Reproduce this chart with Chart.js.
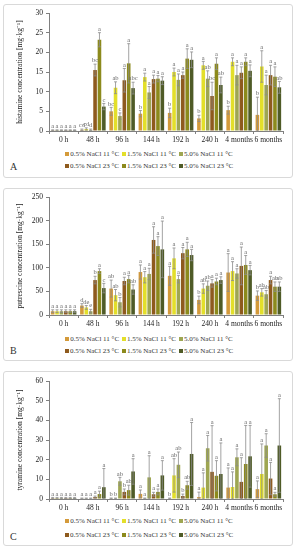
<!DOCTYPE html>
<html><head><meta charset="utf-8">
<script src="https://cdn.jsdelivr.net/npm/chart.js@4/dist/chart.umd.min.js"></script>
<style>
body{margin:0;width:297px;height:550px;background:#fff;position:relative;overflow:hidden;font-family:"Liberation Serif",serif;}
.box{position:absolute;left:3px;width:290px;border:1px solid #d9d9d9;border-radius:3px;box-sizing:border-box;}
canvas.cv{position:absolute;left:3px;}
.lg{position:absolute;left:3px;width:292px;text-align:center;font-size:7px;color:#333;white-space:nowrap;line-height:8px;}
.lg span{display:inline-block;margin:0 1.5px;}
.lg i{display:inline-block;width:4px;height:4px;margin-right:1px;vertical-align:0px;}
.let{position:absolute;left:10px;font-size:10px;color:#333;line-height:10px;}
</style></head><body>
<script>
// ---------- data ----------
const categories = ["0 h","48 h","96 h","144 h","192 h","240 h","4 months","6 months"];
const seriesNames = ["0.5% NaCl 11 °C","1.5% NaCl 11 °C","5.0% NaCl 11 °C","0.5% NaCl 23 °C","1.5% NaCl 23 °C","5.0% NaCl 23 °C"];

// histamine (rows = series in seriesNames order)
const histamine = [
  [0.2, 0.3, 5.0, 4.4, 4.6, 3.2, 5.3, 4.1],
  [0.2, 0.5, 11.0, 13.7, 15.0, 16.7, 17.6, 16.4],
  [0.2, 0.3, 3.8, 9.8, 13.0, 13.3, 14.2, 11.7],
  [0.2, 15.5, 12.9, 13.2, 14.2, 8.9, 14.8, 14.2],
  [0.2, 23.2, 17.2, 13.3, 18.4, 17.1, 17.6, 13.8],
  [0.2, 6.2, 10.9, 12.8, 18.1, 11.7, 15.3, 11.1]
];
const histamineErr = [
  [0.1, 0.2, 1.0, 0.8, 1.2, 0.8, 1.0, 4.5],
  [0.1, 0.3, 1.5, 1.0, 1.0, 1.0, 1.0, 4.0],
  [0.1, 0.2, 0.8, 1.5, 1.5, 2.0, 2.5, 2.5],
  [0.1, 1.5, 3.0, 1.0, 0.8, 3.5, 1.5, 2.5],
  [0.1, 1.8, 5.0, 0.8, 2.5, 1.5, 1.0, 2.5],
  [0.1, 0.8, 1.5, 1.0, 2.0, 2.0, 1.5, 1.5]
];
const histamineLetters = [
  ["a","cd","bc","b","b","b","b","b"],
  ["a","cd","ab","a","a","a","a","a"],
  ["a","d","c","a","a","ab","a","a"],
  ["a","bc","a","a","a","bc","a","a"],
  ["a","a","a","a","a","a","a","a"],
  ["a","c","abc","a","a","ab","a","ab"]
];
const histamineTicks = {min:0, max:30, step:5};

// putrescine
const putrescine = [
  [8, 20, 56, 91, 83, 32, 90, 41],
  [8, 16, 42, 80, 120, 56, 93, 48],
  [8, 8, 27, 87, 76, 62, 88, 44],
  [8, 74, 72, 159, 131, 67, 104, 74],
  [8, 93, 76, 146, 139, 71, 106, 60],
  [8, 57, 54, 139, 127, 74, 95, 60]
];
const putrescineErr = [
  [3, 4, 18, 15, 20, 8, 40, 10],
  [3, 4, 12, 12, 22, 10, 20, 8],
  [3, 4, 10, 12, 8, 10, 10, 8],
  [3, 8, 8, 28, 12, 8, 40, 8],
  [3, 5, 8, 20, 15, 7, 20, 10],
  [3, 10, 10, 60, 12, 7, 10, 10]
];
const putrescineLetters = [
  ["a","d","ab","a","a","b","a","b"],
  ["a","de","ab","a","a","ab","a","ab"],
  ["a","e","b","a","a","ab","a","ab"],
  ["a","b","a","a","a","a","a","a"],
  ["a","a","a","a","a","a","a","ab"],
  ["a","c","ab","a","a","a","a","ab"]
];
const putrescineTicks = {min:0, max:250, step:50};

// tyramine
const tyramine = [
  [0.5, 0.3, 0.3, 2.6, 0.3, 1.0, 5.8, 5.0],
  [0.5, 0.3, 0.3, 0.3, 12.0, 5.8, 6.1, 12.7],
  [0.5, 0.3, 9.0, 11.0, 17.4, 25.8, 21.2, 27.2],
  [0.5, 1.0, 3.6, 2.4, 1.5, 13.8, 8.7, 10.4],
  [0.5, 2.5, 4.5, 3.6, 7.0, 11.8, 17.8, 2.4],
  [0.5, 6.0, 14.0, 12.0, 22.9, 12.7, 21.7, 27.2]
];
const tyramineErr = [
  [0.3, 0.2, 0.2, 2.0, 0.2, 2.5, 10.0, 4.2],
  [0.3, 0.2, 0.2, 0.2, 8.5, 7.5, 7.7, 15.3],
  [0.3, 0.2, 2.0, 11.0, 6.5, 6.5, 4.3, 6.0],
  [0.3, 0.5, 1.5, 1.0, 1.0, 23.5, 12.3, 8.2],
  [0.3, 1.5, 2.5, 1.5, 2.0, 7.7, 19.6, 1.0],
  [0.3, 9.5, 6.5, 7.5, 16.0, 15.8, 15.7, 23.8]
];
const tyramineLetters = [
  ["a","a","b","a","b","a","a","a"],
  ["a","a","b","a","ab","a","a","a"],
  ["a","a","ab","a","ab","a","a","a"],
  ["a","a","b","a","b","a","a","a"],
  ["a","a","ab","a","ab","a","a","a"],
  ["a","a","a","a","a","a","a","a"]
];
const tyramineTicks = {min:0, max:60, step:10};

// ---------- style / layout ----------
const colors = ["#d49a3a","#e3df2a","#9ea652","#8e5a1e","#8c8a1c","#4f5b27"];
const FONT = "Liberation Serif";
const panels = [
  {letter:"A", title:"histamine concentration [mg·kg⁻¹]", values:histamine, errs:histamineErr, lets:histamineLetters, ticks:histamineTicks,
   boxTop:4, boxH:174, plotTop:13, plotBottom:131, legendRows:[154,166], letterY:167},
  {letter:"B", title:"putrescine concentration [mg·kg⁻¹]", values:putrescine, errs:putrescineErr, lets:putrescineLetters, ticks:putrescineTicks,
   boxTop:188, boxH:173, plotTop:197, plotBottom:315, legendRows:[339,351], letterY:351},
  {letter:"C", title:"tyramine concentration [mg·kg⁻¹]", values:tyramine, errs:tyramineErr, lets:tyramineLetters, ticks:tyramineTicks,
   boxTop:371, boxH:175, plotTop:381, plotBottom:499, legendRows:[521,535], letterY:537}
];

function errPlugin(errs, lets){
  return {
    id:'errbars',
    afterDatasetsDraw(chart){
      const ctx = chart.ctx, y = chart.scales.y;
      ctx.save();
      chart.data.datasets.forEach((ds,i)=>{
        const meta = chart.getDatasetMeta(i);
        meta.data.forEach((bar,j)=>{
          const v = ds.data[j], e = errs[i][j];
          const yt = y.getPixelForValue(v+e), yb = y.getPixelForValue(Math.max(0,v-e));
          const x = bar.x;
          ctx.strokeStyle = '#8c8c8c'; ctx.lineWidth = 0.8;
          ctx.beginPath();
          ctx.moveTo(x,yb); ctx.lineTo(x,yt);
          ctx.moveTo(x-1.5,yt); ctx.lineTo(x+1.5,yt);
          ctx.moveTo(x-1.5,yb); ctx.lineTo(x+1.5,yb);
          ctx.stroke();
          ctx.fillStyle = '#6a6a6a';
          ctx.font = '6.5px "'+FONT+'"';
          ctx.textAlign = 'center'; ctx.textBaseline = 'bottom';
          ctx.fillText(lets[i][j], x, yt-0.3);
        });
      });
      ctx.restore();
    }
  };
}

panels.forEach(p=>{
  const box = document.createElement('div');
  box.className = 'box'; box.style.top = p.boxTop+'px'; box.style.height = p.boxH+'px';
  document.body.appendChild(box);

  const cv = document.createElement('canvas');
  cv.className = 'cv';
  const ch = p.plotBottom - p.boxTop + 18;
  cv.width = 290; cv.height = ch;
  cv.style.top = p.boxTop+'px'; cv.style.width='290px'; cv.style.height = ch+'px';
  document.body.appendChild(cv);

  p.legendRows.forEach((ry,r)=>{
    const lg = document.createElement('div');
    lg.className = 'lg'; lg.style.top = (ry-4)+'px';
    for(let k=r*3;k<r*3+3;k++){
      const s = document.createElement('span');
      s.innerHTML = '<i style="background:'+colors[k]+'"></i>'+seriesNames[k];
      lg.appendChild(s);
    }
    document.body.appendChild(lg);
  });

  const L = document.createElement('div');
  L.className = 'let'; L.style.top = (p.letterY-5)+'px'; L.textContent = p.letter;
  document.body.appendChild(L);

  new Chart(cv, {
    type:'bar',
    data:{
      labels: categories,
      datasets: seriesNames.map((n,i)=>({
        label:n, data:p.values[i], backgroundColor:colors[i],
        borderWidth:0, barPercentage:0.82, categoryPercentage:0.9
      }))
    },
    options:{
      responsive:false, animation:false, devicePixelRatio:1,
      layout:{padding:{top:p.plotTop-p.boxTop, right:10, left:0, bottom:0}},
      plugins:{legend:{display:false}, tooltip:{enabled:false}},
      scales:{
        x:{
          grid:{display:true, drawOnChartArea:false, drawTicks:true, tickLength:3, color:'#808080', offset:true},
          border:{color:'#808080', width:1},
          ticks:{font:{family:FONT, size:7.5}, color:'#222', padding:2, maxRotation:0, autoSkip:false},
          afterFit(s){ s.height = 18; }
        },
        y:{
          min:p.ticks.min, max:p.ticks.max,
          ticks:{stepSize:p.ticks.step, font:{family:FONT, size:7.5}, color:'#222', padding:3},
          grid:{drawOnChartArea:false, drawTicks:true, tickLength:3, color:'#808080'},
          border:{color:'#808080', width:1},
          title:{display:true, text:p.title, font:{family:FONT, size:7.5}, color:'#222', padding:{top:13,bottom:0}},
          afterFit(s){ s.width = 46; }
        }
      }
    },
    plugins:[errPlugin(p.errs, p.lets)]
  });
});
</script>
</body></html>
